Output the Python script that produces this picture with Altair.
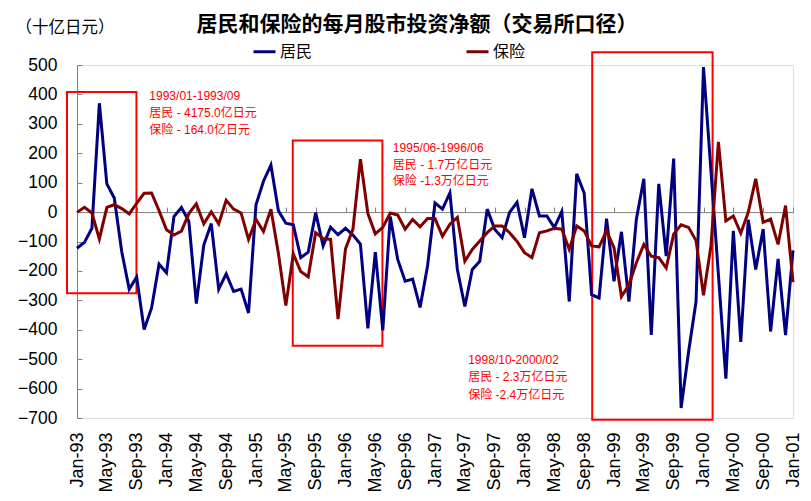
import json
import altair as alt
import pandas as pd

# ---------------- data ----------------
months = list(pd.date_range("1993-01-01", periods=97, freq="MS").strftime("%b-%y"))

households = [
    -123, -103, -55, 370, 96, 48, -135, -262, -221, -399, -326, -177,
    -206, -15, 16, -32, -311, -112, -39, -262, -210, -270, -262, -343,
    25, 105, 160, 5, -38, -43, -155, -136, -2, -115, -51, -77,
    -55, -78, -109, -395, -136, -402, -15, -161, -235, -228, -324, -183,
    31, 10, 65, -195, -321, -195, -167, 10, -58, -87, -1, 33,
    -87, 79, -13, -13, -53, 2, -304, 130, 65, -281, -292, -22,
    -235, -67, -304, -24, 113, -418, 96, -150, 182, -666, -475, -304,
    493, 140, -213, -566, -64, -441, -26, -195, -58, -406, -159, -418,
    -130,
]

insurance = [
    -1, 16, -3, -92, 16, 25, 12, -6, 30, 64, 65, 5,
    -60, -78, -65, -5, 28, -40, 1, -40, 40, 10, -3, -93,
    -25, -66, 10, -140, -318, -142, -202, -220, -70, -90, -93, -364,
    -125, -58, 180, -5, -74, -52, -3, -10, -58, -25, -50, -22,
    -22, -82, -41, -18, -167, -127, -98, -70, -47, -47, -70, -100,
    -138, -155, -70, -64, -55, -58, -127, -47, -64, -115, -118, -64,
    -121, -287, -247, -172, -110, -150, -155, -190, -75, -43, -52, -97,
    -283, -115, 239, -30, -13, -72, -1, 113, -35, -24, -110, 22,
    -238,
]

tick_labels = ["Jan-93", "May-93", "Sep-93", "Jan-94", "May-94", "Sep-94",
               "Jan-95", "May-95", "Sep-95", "Jan-96", "May-96", "Sep-96",
               "Jan-97", "May-97", "Sep-97", "Jan-98", "May-98", "Sep-98",
               "Jan-99", "May-99", "Sep-99", "Jan-00", "May-00", "Sep-00",
               "Jan-01"]
y_ticks = list(range(-700, 501, 100))

series_names = ["居民", "保险"]
series_colors = ["#000080", "#800000"]

periods = ["1993/01-1993/09", "1995/06-1996/06", "1998/10-2000/02"]
household_totals = ["居民 - 4175.0亿日元", "居民 - 1.7万亿日元", "居民 - 2.3万亿日元"]
insurance_totals = ["保险 - 164.0亿日元", "保险 -1.3万亿日元", "保险 -2.4万亿日元"]

# ---------------- tables ----------------
n = len(months)
df = pd.DataFrame({
    "idx": list(range(n)) * 2,
    "month": months * 2,
    "series": [series_names[0]] * n + [series_names[1]] * n,
    "value": households + insurance,
})

# highlight boxes (month index / value extents)
box_df = pd.DataFrame({
    "x0": [-1.34, 28.93, 69.08],
    "x1": [7.97, 40.95, 85.22],
    "y0": [408, 243, 543],
    "y1": [-276, -454, -706],
})

# annotation text anchors (month index, value of first line, line step)
ann_x = [9.7, 42.35, 52.45]
ann_y = [393, 218, -503]
ann_step = [56.5, 57, 59]
rows = []
for k in range(3):
    for j, t in enumerate([periods[k], household_totals[k], insurance_totals[k]]):
        rows.append({"x": ann_x[k], "y": ann_y[k] - j * ann_step[k], "text": t})
ann_df = pd.DataFrame(rows)

# ---------------- layout ----------------
W, H = 716, 353
YMIN, YMAX = -700, 500
zero_offset = H * YMAX / (YMAX - YMIN)
xscale = alt.Scale(domain=[0, n - 1], nice=False, zero=False)
yscale = alt.Scale(domain=[YMIN, YMAX], nice=False, zero=False)
GRAY = "#808080"
LATIN = "Liberation Sans"
CJK = "Noto Sans CJK SC"
label_expr = json.dumps(tick_labels, ensure_ascii=False) + "[round(datum.value / 4)]"
x_tick_vals = list(range(0, n, 4))

lines = alt.Chart(df).mark_line(strokeWidth=3).encode(
    x=alt.X("idx:Q", scale=xscale, axis=alt.Axis(
        values=x_tick_vals, labelExpr=label_expr, labelAngle=270,
        labelAlign="right", labelBaseline="middle", labelPadding=14,
        ticks=False, domain=False, grid=False, title=None,
        labelFontSize=18, labelFont=LATIN, labelColor="black",
        labelOverlap=False, labelFlush=False, labelBound=False)),
    y=alt.Y("value:Q", scale=yscale, axis=alt.Axis(
        values=y_ticks, ticks=False, domain=True, domainColor=GRAY,
        domainWidth=1, grid=False, labelPadding=20, labelFontSize=17.5,
        labelFont=LATIN, labelColor="black", labelOverlap=False,
        labelFlush=False, labelBound=False,
        title="（十亿日元）", titleAngle=0, titleX=-62, titleY=-38,
        titleAlign="left", titleBaseline="middle", titleFontSize=16.5,
        titleFontWeight="normal", titleFont=CJK, titleColor="black")),
    color=alt.Color("series:N", scale=alt.Scale(domain=series_names, range=series_colors),
                    legend=alt.Legend(title=None, orient="none", legendX=175, legendY=-26,
                                      direction="horizontal", symbolType="stroke",
                                      symbolSize=484, symbolStrokeWidth=3,
                                      labelFontSize=16, labelFont=CJK, labelColor="black",
                                      labelOffset=3, columnPadding=147, padding=0)),
    detail="series:N",
)

boxes = alt.Chart(box_df).mark_rect(fillOpacity=0, stroke="#FF0000", strokeWidth=2).encode(
    x=alt.X("x0:Q", scale=xscale, axis=alt.Axis(
        orient="top", offset=-zero_offset, values=x_tick_vals, labels=False,
        ticks=True, tickSize=5, tickColor=GRAY, domain=True, domainColor=GRAY,
        grid=False, title=None)),
    x2="x1:Q",
    y=alt.Y("y0:Q", scale=yscale, axis=alt.Axis(
        orient="right", offset=-W, values=y_ticks, labels=False, ticks=True,
        tickSize=5, tickColor=GRAY, domain=False, grid=False, title=None)),
    y2="y1:Q",
)

texts = alt.Chart(ann_df).mark_text(
    align="left", baseline="middle", color="#FF0000", fontSize=12,
    font=f"{LATIN}, {CJK}"
).encode(
    x=alt.X("x:Q", scale=xscale, axis=None),
    y=alt.Y("y:Q", scale=yscale, axis=None),
    text="text:N",
)

chart = alt.layer(boxes, lines, texts).resolve_axis(
    x="independent", y="independent"
).properties(
    width=W, height=H,
    autosize=alt.AutoSizeParams(type="none"),
    padding={"left": 69, "top": 57, "right": 10, "bottom": 75},
    title=alt.TitleParams(
        text="居民和保险的每月股市投资净额（交易所口径）",
        font=CJK, fontSize=21, fontWeight="bold", color="black",
        anchor="middle", frame="group", dx=-18, offset=0, dy=16),
).configure_view(stroke=None).configure(background="white")

chart.save("out.html", embed_options={"renderer": "svg", "actions": False})
